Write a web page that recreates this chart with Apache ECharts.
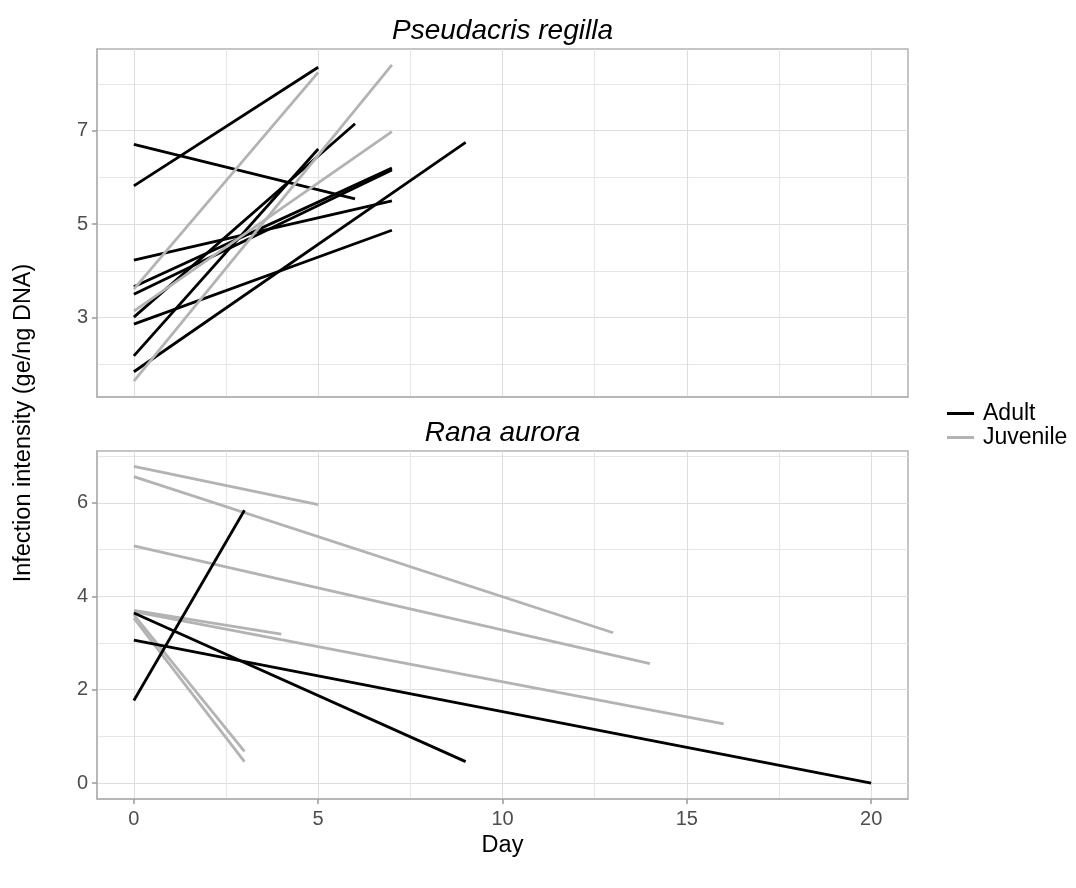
<!DOCTYPE html>
<html>
<head>
<meta charset="utf-8">
<script src="https://cdn.jsdelivr.net/npm/echarts@6/dist/echarts.min.js"></script>
<style>
  html, body { margin: 0; padding: 0; background: #fff; }
  #chart { width: 1076px; height: 888px; }
</style>
</head>
<body>
<div id="chart"></div>
<script>
// Pseudacris regilla: each subject goes from day 0 to its last day
var regillaStage = ['Adult', 'Adult', 'Adult', 'Adult', 'Adult', 'Adult', 'Adult', 'Adult', 'Adult',
                    'Juvenile', 'Juvenile', 'Juvenile'];
var regillaStart = [5.82, 6.71, 4.23, 3.66, 3.50, 3.01, 2.86, 2.18, 1.84, 3.61, 3.14, 1.64];
var regillaLastDay = [5, 6, 7, 7, 7, 6, 7, 5, 9, 5, 7, 7];
var regillaEnd = [8.36, 5.54, 5.50, 6.20, 6.16, 7.15, 4.87, 6.61, 6.75, 8.25, 6.98, 8.41];

// Rana aurora
var auroraStage = ['Juvenile', 'Juvenile', 'Juvenile', 'Juvenile', 'Juvenile', 'Juvenile', 'Juvenile',
                   'Adult', 'Adult', 'Adult'];
var auroraStart = [6.78, 6.56, 5.08, 3.70, 3.67, 3.60, 3.53, 1.77, 3.64, 3.06];
var auroraLastDay = [5, 13, 14, 4, 16, 3, 3, 3, 9, 20];
var auroraEnd = [5.96, 3.22, 2.56, 3.19, 1.27, 0.68, 0.46, 5.84, 0.46, 0.00];

var dayTicks = [0, 5, 10, 15, 20];
var dayMinor = [2.5, 7.5, 12.5, 17.5];
var regillaTicks = [3, 5, 7];
var regillaMinor = [2, 4, 6, 8];
var auroraTicks = [0, 2, 4, 6];
var auroraMinor = [1, 3, 5, 7];

var stageColor = { Adult: '#000000', Juvenile: '#b3b3b3' };
var FONT = '"Liberation Sans", Arial, sans-serif';

var myChart = echarts.init(document.getElementById('chart'));

function makeSeries(stage, start, lastDay, end, idx) {
  var out = [];
  for (var i = 0; i < stage.length; i++) {
    out.push({
      type: 'line',
      name: stage[i],
      xAxisIndex: idx,
      yAxisIndex: idx,
      data: [[0, start[i]], [lastDay[i], end[i]]],
      symbol: 'none',
      silent: true,
      lineStyle: { width: 2.8, color: stageColor[stage[i]] },
      itemStyle: { color: stageColor[stage[i]] }
    });
  }
  return out;
}

// main axis with ticks/labels/major grid
function mainAxis(gridIndex, min, max, ticks, showLabels) {
  return {
    type: 'value', gridIndex: gridIndex, min: min, max: max,
    axisLine: { show: true, onZero: false, lineStyle: { color: '#b3b3b3', width: 1.5 } },
    axisTick: { show: showLabels, inside: false, customValues: ticks, length: 5, lineStyle: { color: '#999999', width: 1.5 } },
    axisLabel: { show: showLabels, customValues: ticks, color: '#4d4d4d', fontSize: 20, fontFamily: FONT, margin: 9 },
    splitLine: { show: true, lineStyle: { color: '#dedede', width: 1.1 } }
  };
}
// hidden axis only for the minor grid lines
function minorAxis(gridIndex, min, max, ticks) {
  return {
    type: 'value', gridIndex: gridIndex, min: min, max: max,
    axisLine: { show: false, onZero: false },
    axisTick: { show: false, customValues: ticks },
    axisLabel: { show: false, customValues: ticks },
    splitLine: { show: true, lineStyle: { color: '#e6e6e6', width: 1 } }
  };
}

var series = makeSeries(regillaStage, regillaStart, regillaLastDay, regillaEnd, 0)
  .concat(makeSeries(auroraStage, auroraStart, auroraLastDay, auroraEnd, 1));

var xb = mainAxis(1, -1, 21, dayTicks, true);
xb.axisLabel.margin = 10;

var option = {
  animation: false,
  grid: [
    { left: 97, top: 49, width: 811, height: 348, show: true, borderColor: '#b3b3b3', borderWidth: 1.5, backgroundColor: 'transparent' },
    { left: 97, top: 451, width: 811, height: 348, show: true, borderColor: '#b3b3b3', borderWidth: 1.5, backgroundColor: 'transparent' }
  ],
  xAxis: [
    mainAxis(0, -1, 21, dayTicks, false),
    xb,
    minorAxis(0, -1, 21, dayMinor),
    minorAxis(1, -1, 21, dayMinor)
  ],
  yAxis: [
    mainAxis(0, 1.3, 8.75, regillaTicks, true),
    mainAxis(1, -0.34, 7.11, auroraTicks, true),
    minorAxis(0, 1.3, 8.75, regillaMinor),
    minorAxis(1, -0.34, 7.11, auroraMinor)
  ],
  legend: {
    data: ['Adult', 'Juvenile'],
    orient: 'vertical',
    left: 947,
    top: 402,
    padding: 0,
    icon: 'rect',
    itemWidth: 27,
    itemHeight: 3,
    itemGap: 1,
    textStyle: { fontSize: 23, fontFamily: FONT, color: '#000', padding: [0, 0, 0, 4] }
  },
  graphic: [
    { type: 'text', x: 502.5, y: 31, style: { text: 'Pseudacris regilla', font: 'italic 28px ' + FONT, fill: '#000', align: 'center', verticalAlign: 'middle' } },
    { type: 'text', x: 502.5, y: 433, style: { text: 'Rana aurora', font: 'italic 28px ' + FONT, fill: '#000', align: 'center', verticalAlign: 'middle' } },
    { type: 'text', x: 24, y: 423, rotation: Math.PI / 2, style: { text: 'Infection intensity (ge/ng DNA)', font: '23.5px ' + FONT, fill: '#000', align: 'center', verticalAlign: 'middle' } },
    { type: 'text', x: 502.5, y: 846, style: { text: 'Day', font: '23.5px ' + FONT, fill: '#000', align: 'center', verticalAlign: 'middle' } }
  ],
  series: series
};
myChart.setOption(option);
</script>
</body>
</html>
